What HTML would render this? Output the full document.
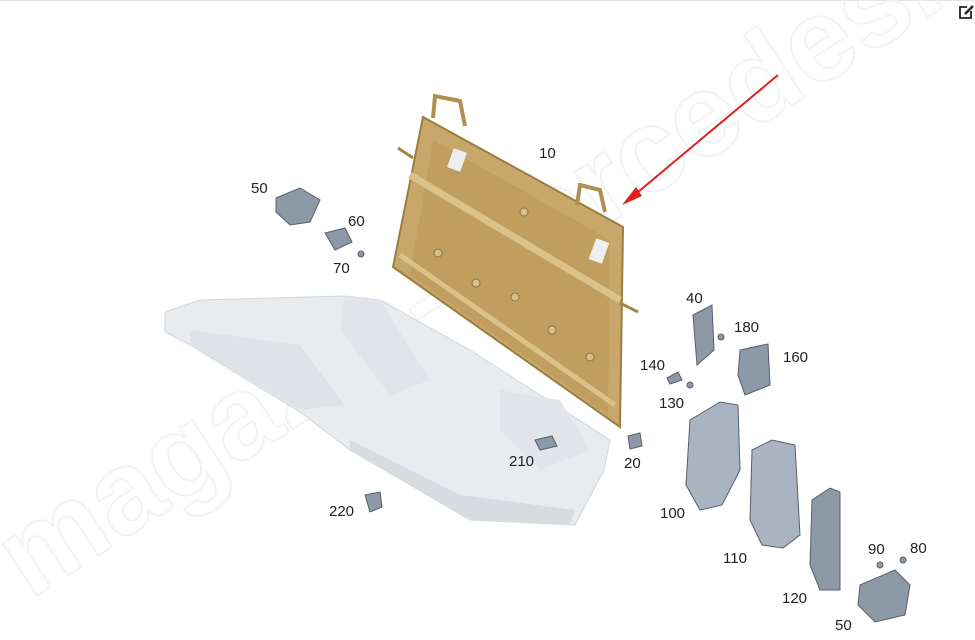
<!DOCTYPE html>
<html><head><meta charset="utf-8"><style>
html,body{margin:0;padding:0;background:#fff;}
svg{display:block;}
text{font-family:"Liberation Sans",Arial,sans-serif;font-size:15px;fill:#222;}
</style></head><body>
<svg width="975" height="640" viewBox="0 0 975 640" xmlns="http://www.w3.org/2000/svg">
<rect width="975" height="640" fill="#fff"/>
<line x1="0" y1="0.5" x2="975" y2="0.5" stroke="#e4e4e4"/>
<!-- watermark -->
<text x="30" y="600" transform="rotate(-33 30 600)" style="font-size:118px;fill:none;stroke:#f2f3f4;stroke-width:2;font-weight:bold">magazin-mercedes.ru</text>
<!-- gray seat -->
<polygon points="165,312 200,300 345,296 380,300 470,350 610,440 604,470 575,525 470,520 350,450 300,412 190,345 165,332" fill="#e9ecef" stroke="#d2d6da"/>
<polygon points="190,330 300,345 345,405 300,410 190,345" fill="#dfe3e7"/>
<polygon points="350,440 460,495 575,510 570,525 470,520 350,450" fill="#d8dce0"/>
<polygon points="345,296 380,300 430,380 390,395 340,330" fill="#e1e5e9"/>
<polygon points="500,390 560,400 590,450 540,470 500,430" fill="#e1e5e9"/>
<!-- golden frame -->
<polygon points="423,117 623,227 620,427 393,267" fill="#c8a86a" stroke="#9c7e40" stroke-width="2"/>
<polygon points="433,140 610,240 608,415 410,275" fill="#bf9e5f"/>
<polyline points="410,175 620,300" stroke="#dcc288" stroke-width="7" fill="none"/>
<polyline points="400,255 615,405" stroke="#dcc288" stroke-width="5" fill="none"/>
<path d="M433,118 l2,-22 l25,5 l5,25 M577,205 l3,-20 l20,5 l5,22" stroke="#b08f50" stroke-width="4" fill="none"/>
<line x1="398" y1="148" x2="413" y2="158" stroke="#a48546" stroke-width="3"/>
<line x1="620" y1="303" x2="638" y2="312" stroke="#a48546" stroke-width="3"/>
<g fill="#d9c08a" stroke="#8f733a">
<circle cx="438" cy="253" r="4"/><circle cx="476" cy="283" r="4"/><circle cx="515" cy="297" r="4"/><circle cx="552" cy="330" r="4"/><circle cx="590" cy="357" r="4"/><circle cx="524" cy="212" r="4"/></g>
<rect x="450" y="150" width="14" height="20" fill="#eee" transform="rotate(20 457 160)"/>
<rect x="592" y="240" width="14" height="22" fill="#eee" transform="rotate(20 599 251)"/>
<!-- red arrow -->
<line x1="778" y1="75" x2="632" y2="197" stroke="#e0201a" stroke-width="2"/>
<polygon points="622,205 636,187 642,196" fill="#e0201a"/>
<!-- small parts -->
<g fill="#8d99a6" stroke="#56606c" stroke-width="1">
<polygon points="276,198 300,188 320,200 310,222 290,225 276,212"/>
<polygon points="325,233 345,228 352,242 335,250"/>
<circle cx="361" cy="254" r="3"/>
<polygon points="693,315 712,305 714,350 697,365"/>
<circle cx="721" cy="337" r="3"/>
<polygon points="740,350 768,344 770,385 745,395 738,375"/>
<polygon points="667,378 678,372 682,380 670,384"/>
<circle cx="690" cy="385" r="3"/>
<polygon points="628,436 640,433 642,446 630,449"/>
<polygon points="690,420 720,402 738,405 740,470 722,505 700,510 686,485" fill="#a9b4c0"/>
<polygon points="752,450 772,440 795,445 800,535 783,548 762,545 750,520" fill="#a9b4c0"/>
<polygon points="812,500 830,488 840,492 840,590 820,590 810,565"/>
<polygon points="860,585 895,570 910,585 905,615 875,622 858,605"/>
<circle cx="880" cy="565" r="3"/><circle cx="903" cy="560" r="3"/>
<polygon points="535,440 552,436 557,446 540,450"/>
<polygon points="365,495 380,492 382,507 370,512"/>
</g>
<!-- labels -->
<text x="539" y="158">10</text>
<text x="251" y="193">50</text>
<text x="348" y="226">60</text>
<text x="333" y="273">70</text>
<text x="686" y="303">40</text>
<text x="734" y="332">180</text>
<text x="783" y="362">160</text>
<text x="640" y="370">140</text>
<text x="659" y="408">130</text>
<text x="624" y="468">20</text>
<text x="509" y="466">210</text>
<text x="329" y="516">220</text>
<text x="660" y="518">100</text>
<text x="723" y="563">110</text>
<text x="782" y="603">120</text>
<text x="868" y="554">90</text>
<text x="910" y="553">80</text>
<text x="835" y="630">50</text>
<!-- edit icon -->
<g transform="translate(958,4)" stroke="#222" fill="none" stroke-width="1.8">
<path d="M9,3 H2 V14 H13 V7"/><path d="M7,10 L15,2" stroke-width="2.5"/></g>
</svg>
</body></html>
